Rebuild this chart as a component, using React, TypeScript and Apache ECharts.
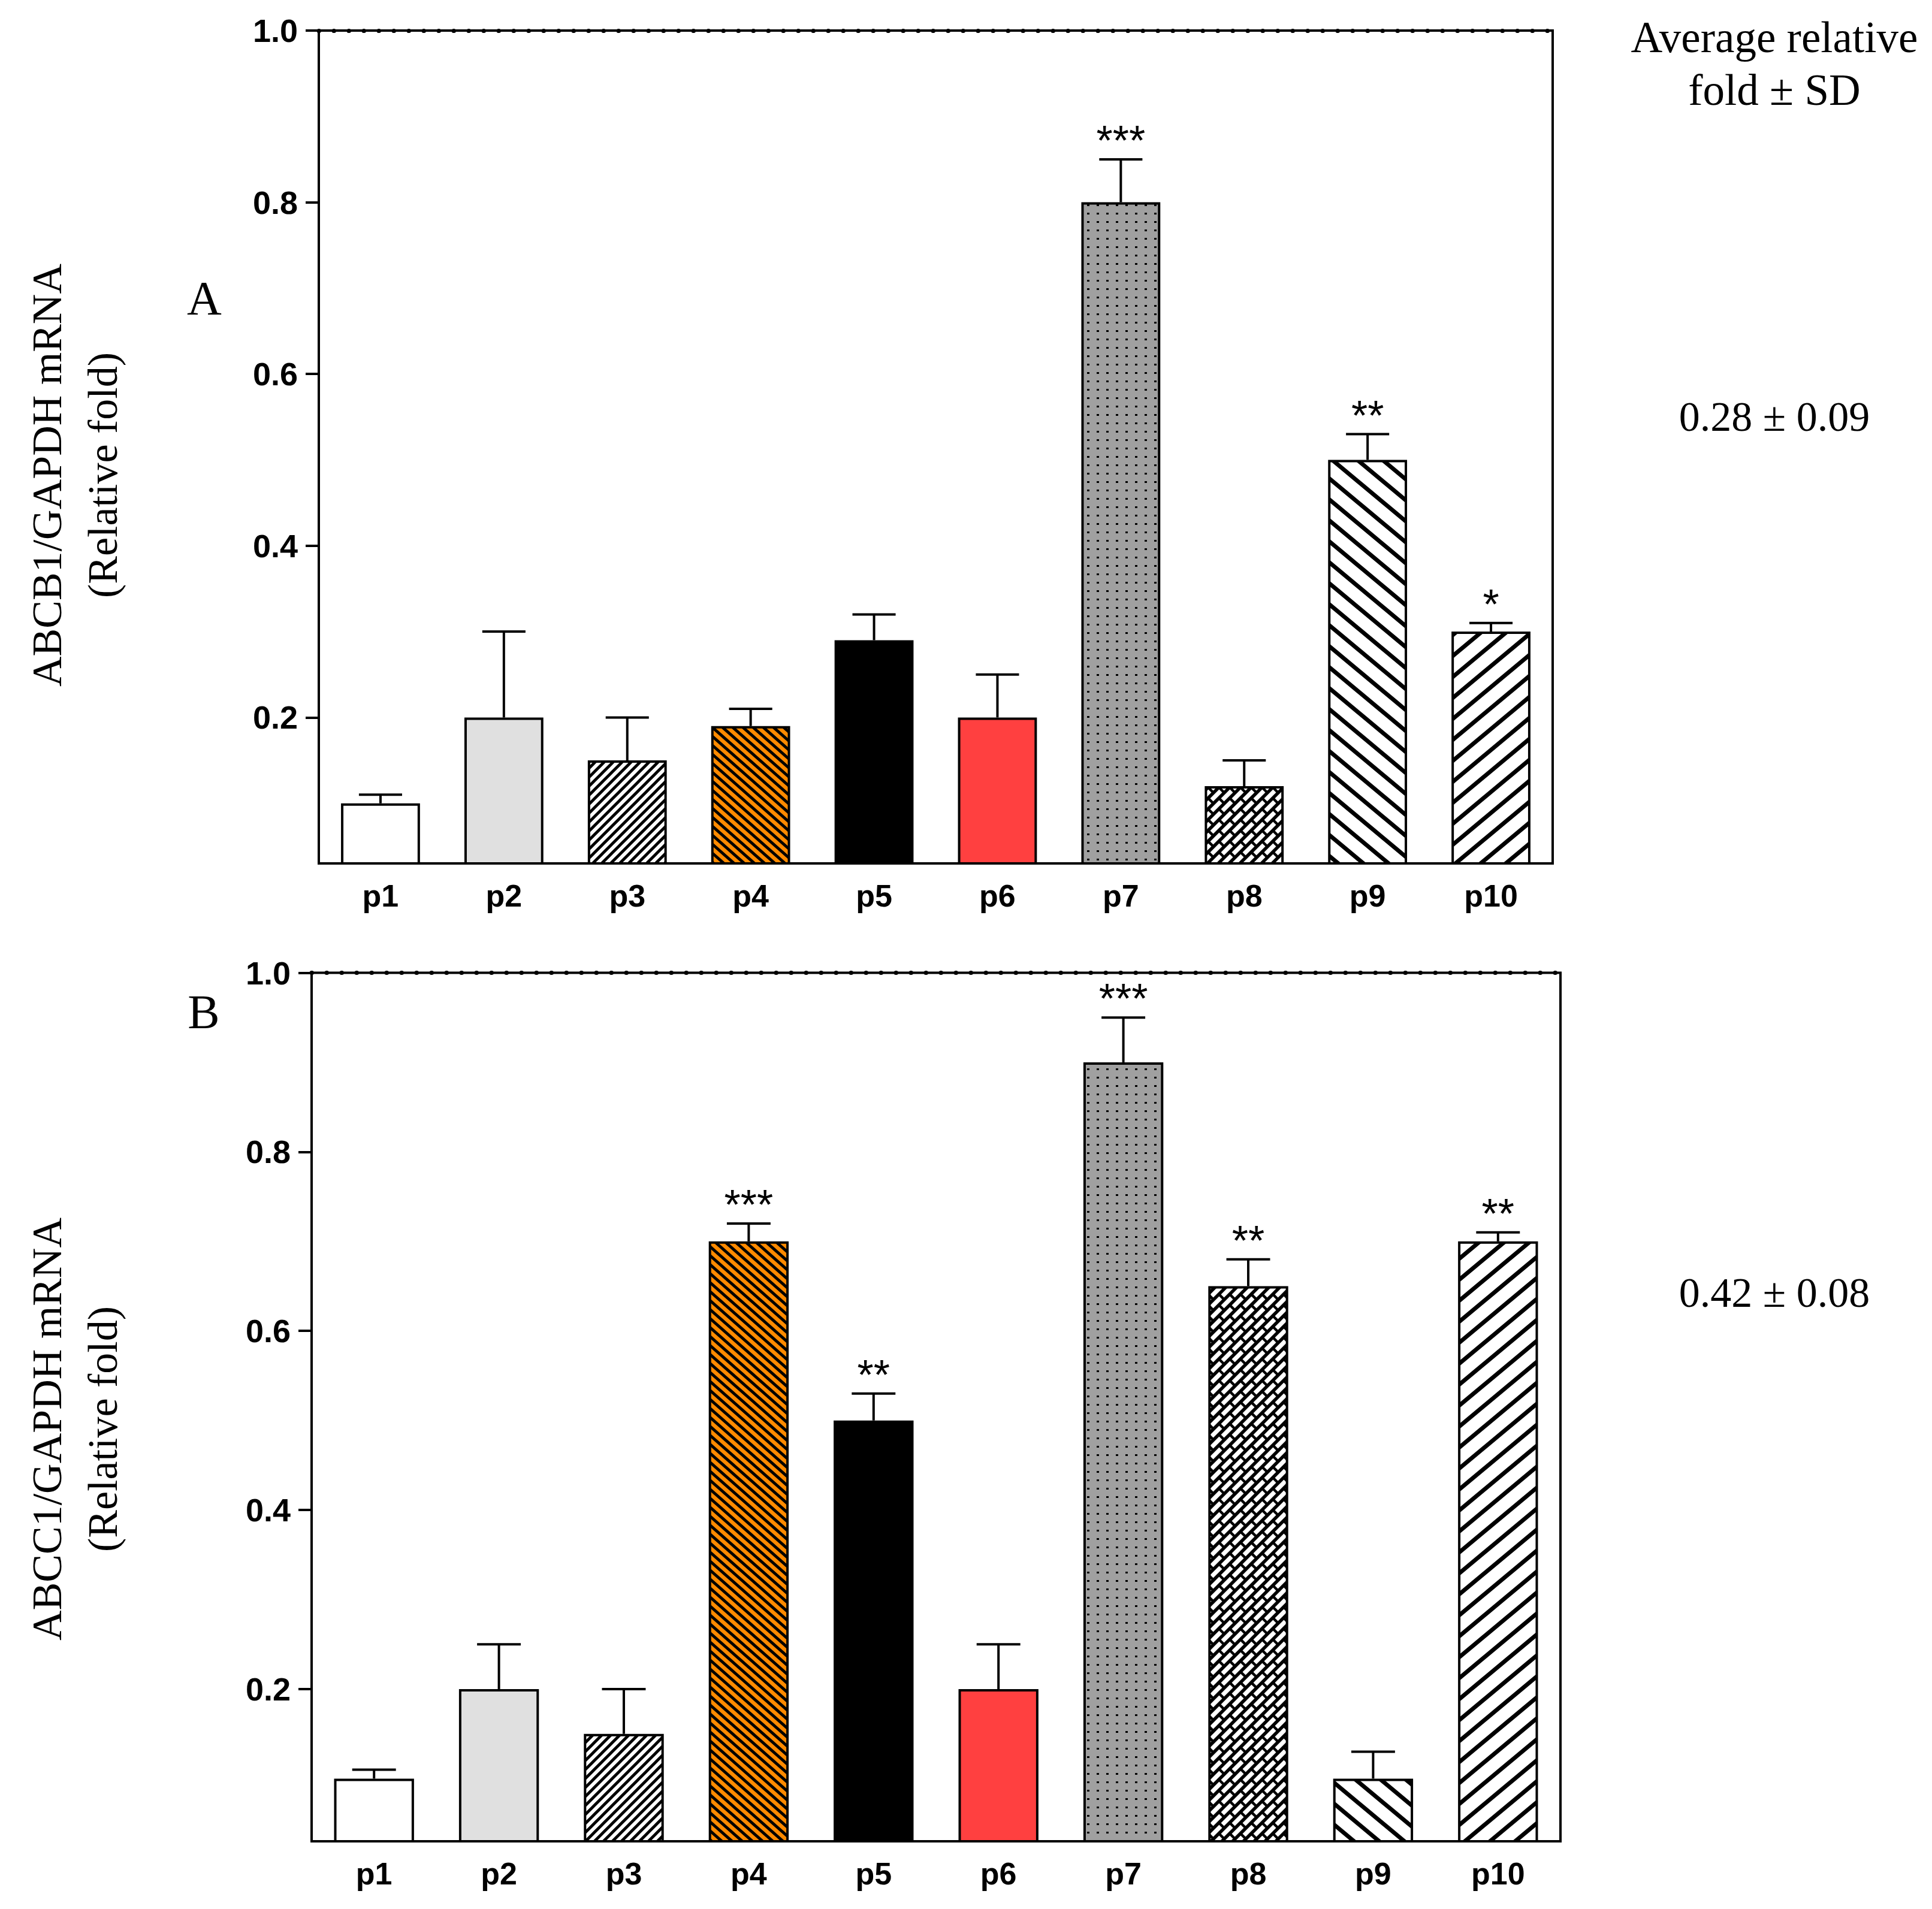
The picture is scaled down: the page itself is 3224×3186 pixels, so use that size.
import React, { useEffect, useRef } from 'react';
import * as echarts from 'echarts';

// ---------- data ----------
const categories = ['p1', 'p2', 'p3', 'p4', 'p5', 'p6', 'p7', 'p8', 'p9', 'p10'];
const meanA = [0.10, 0.20, 0.15, 0.19, 0.29, 0.20, 0.80, 0.12, 0.50, 0.30];
const upperA = [0.11, 0.30, 0.20, 0.21, 0.32, 0.25, 0.85, 0.15, 0.53, 0.31];
const starsA = ['', '', '', '', '', '', '***', '', '**', '*'];
const meanB = [0.10, 0.20, 0.15, 0.70, 0.50, 0.20, 0.90, 0.65, 0.10, 0.70];
const upperB = [0.11, 0.25, 0.20, 0.72, 0.53, 0.25, 0.95, 0.68, 0.13, 0.71];
const starsB = ['', '', '', '***', '**', '', '***', '**', '', '**'];
const yTicks = [0.2, 0.4, 0.6, 0.8, 1.0];
const yMin = 0.03;
const yMax = 1.0;
const titleA = ['ABCB1/GAPDH mRNA', '(Relative fold)'];
const titleB = ['ABCC1/GAPDH mRNA', '(Relative fold)'];
const summaryHeader = ['Average relative', 'fold ± SD'];
const summaryA = '0.28 ± 0.09';
const summaryB = '0.42 ± 0.08';
const panelLabels = ['A', 'B'];

const SANS = 'Liberation Sans';
const SERIF = 'Liberation Serif';

type Ctx = CanvasRenderingContext2D;

function makeTile(w: number, h: number, bg: string, draw: (ctx: Ctx, w: number, h: number) => void) {
  const c = document.createElement('canvas');
  c.width = w;
  c.height = h;
  const ctx = c.getContext('2d') as Ctx;
  ctx.fillStyle = bg;
  ctx.fillRect(0, 0, w, h);
  ctx.strokeStyle = '#000';
  ctx.fillStyle = '#000';
  draw(ctx, w, h);
  return { image: c.toDataURL('image/png'), imageWidth: w, imageHeight: h, repeat: 'repeat' };
}

function diag(ctx: Ctx, w: number, h: number, lw: number, dir: number) {
  ctx.lineWidth = lw;
  ctx.beginPath();
  for (const dx of [-2 * w, -w, 0, w, 2 * w]) {
    if (dir > 0) {
      ctx.moveTo(dx - w, 2 * h);
      ctx.lineTo(dx + 2 * w, -h);
    } else {
      ctx.moveTo(dx - w, -h);
      ctx.lineTo(dx + 2 * w, 2 * h);
    }
  }
  ctx.stroke();
}

function makeFills() {
  const p3 = makeTile(15, 15, '#ffffff', (ctx, w, h) => diag(ctx, w, h, 4.8, 1));
  const p4 = makeTile(17, 15, '#ff8a00', (ctx, w, h) => diag(ctx, w, h, 4.8, -1));
  const p7 = makeTile(16, 14, '#a0a0a0', (ctx) => {
    ctx.fillRect(6, 5, 4, 3);
  });
  const p8 = makeTile(72, 72, '#ffffff', (ctx, T) => {
    const s = 18;
    const p = 36;
    ctx.lineWidth = 5.5;
    ctx.beginPath();
    for (let k = -8; k <= 16; k++) {
      const c = k * s;
      ctx.moveTo(-T, c + T);
      ctx.lineTo(2 * T, c - 2 * T);
    }
    ctx.stroke();
    ctx.lineWidth = 4.5;
    ctx.beginPath();
    for (let k = -8; k <= 16; k++) {
      const a0 = k * s;
      const a1 = (k + 1) * s;
      const par = ((k % 2) + 2) % 2;
      for (let m = -5; m <= 5; m++) {
        const e = m * p + par * (p / 2);
        ctx.moveTo((a0 + e) / 2, (a0 - e) / 2);
        ctx.lineTo((a1 + e) / 2, (a1 - e) / 2);
      }
    }
    ctx.stroke();
  });
  const p9 = makeTile(42, 35, '#ffffff', (ctx, w, h) => diag(ctx, w, h, 7, -1));
  const p10 = makeTile(42, 35, '#ffffff', (ctx, w, h) => diag(ctx, w, h, 7, 1));
  return ['#ffffff', '#e0e0e0', p3, p4, '#000000', '#ff4040', p7, p8, p9, p10];
}

function buildPanel(idx: number, mean: number[], upper: number[], stars: string[], fills: any[]) {
  const bars = {
    type: 'bar',
    xAxisIndex: idx,
    yAxisIndex: idx,
    barWidth: '64%',
    z: 2,
    itemStyle: { borderColor: '#000', borderWidth: 4 },
    data: mean.map((v, i) => ({ value: v, itemStyle: { color: fills[i] } })),
    markLine: {
      silent: true,
      symbol: ['none', 'none'],
      label: { show: false },
      lineStyle: { color: '#000', width: 7, type: [0.5, 24.5], cap: 'round' },
      data: [{ yAxis: yMax }],
    },
  };
  const errors = {
    type: 'custom',
    xAxisIndex: idx,
    yAxisIndex: idx,
    z: 5,
    encode: { x: 0, y: 2 },
    data: mean.map((v, i) => [i, v, upper[i]]),
    renderItem: (params: any, api: any) => {
      const i = api.value(0);
      const base = api.coord([i, api.value(1)]);
      const top = api.coord([i, api.value(2)]);
      const bw = api.size([1, 0])[0];
      const half = bw * 0.175;
      const star = stars[params.dataIndex];
      const children: any[] = [
        { type: 'line', shape: { x1: base[0], y1: base[1], x2: top[0], y2: top[1] }, style: { stroke: '#000', lineWidth: 4 } },
        { type: 'line', shape: { x1: top[0] - half, y1: top[1], x2: top[0] + half, y2: top[1] }, style: { stroke: '#000', lineWidth: 4 } },
      ];
      if (star) {
        children.push({
          type: 'text',
          x: top[0],
          y: top[1] - 31,
          style: { text: star, fontFamily: SANS, fontSize: 70, fill: '#000', align: 'center', verticalAlign: 'middle' },
        });
      }
      return { type: 'group', children };
    },
  };
  return [bars, errors];
}

function axisPair(idx: number) {
  const xAxis = {
    type: 'category',
    gridIndex: idx,
    data: categories,
    axisLine: { lineStyle: { color: '#000', width: 4 } },
    axisTick: { alignWithLabel: true, length: 22, lineStyle: { color: '#000', width: 4 } },
    axisLabel: { fontFamily: SANS, fontWeight: 'bold', fontSize: 52, color: '#000', margin: 28 },
  };
  const yAxis = {
    type: 'value',
    gridIndex: idx,
    min: yMin,
    max: yMax,
    splitLine: { show: false },
    axisLine: { show: true, lineStyle: { color: '#000', width: 4 } },
    axisTick: { show: true, length: 22, customValues: yTicks, lineStyle: { color: '#000', width: 4 } },
    axisLabel: {
      customValues: yTicks,
      formatter: (v: number) => v.toFixed(1),
      fontFamily: SANS,
      fontWeight: 'bold',
      fontSize: 54,
      color: '#000',
      margin: 35,
    },
  };
  return { xAxis, yAxis };
}

function serifText(text: string, x: number, y: number, size: number, rotation = 0) {
  return {
    type: 'text',
    x,
    y,
    rotation,
    silent: true,
    style: { text, fontFamily: SERIF, fontSize: size, fill: '#000', align: 'center', verticalAlign: 'middle' },
  };
}

export default function App() {
  const ref = useRef<HTMLDivElement>(null);
  useEffect(() => {
    document.body.style.margin = '0';
    document.body.style.overflow = 'hidden';
    if (!ref.current) return;
    const chart = echarts.init(ref.current, null, { renderer: 'svg' });
    const fills = makeFills();
    const a = axisPair(0);
    const b = axisPair(1);
    const option: any = {
      animation: false,
      backgroundColor: '#ffffff',
      grid: [
        { left: 532, top: 51, width: 2059, height: 1390, show: true, borderColor: '#000', borderWidth: 4, backgroundColor: 'transparent' },
        { left: 520, top: 1623.5, width: 2084, height: 1449.5, show: true, borderColor: '#000', borderWidth: 4, backgroundColor: 'transparent' },
      ],
      xAxis: [a.xAxis, b.xAxis],
      yAxis: [a.yAxis, b.yAxis],
      series: [
        ...buildPanel(0, meanA, upperA, starsA, fills),
        ...buildPanel(1, meanB, upperB, starsB, fills),
      ],
      graphic: [
        serifText(panelLabels[0], 341, 498, 80),
        serifText(panelLabels[1], 340, 1689, 80),
        serifText(titleA[0], 78, 793, 70, Math.PI / 2),
        serifText(titleA[1], 171, 793, 70, Math.PI / 2),
        serifText(titleB[0], 78, 2385, 70, Math.PI / 2),
        serifText(titleB[1], 171, 2385, 70, Math.PI / 2),
        serifText(summaryHeader[0], 2961, 62, 73),
        serifText(summaryHeader[1], 2961, 150, 73),
        serifText(summaryA, 2961, 695, 70),
        serifText(summaryB, 2961, 2157, 70),
      ],
    };
    chart.setOption(option);
    return () => chart.dispose();
  }, []);
  return <div ref={ref} style={{ width: 3224, height: 3186 }} />;
}
